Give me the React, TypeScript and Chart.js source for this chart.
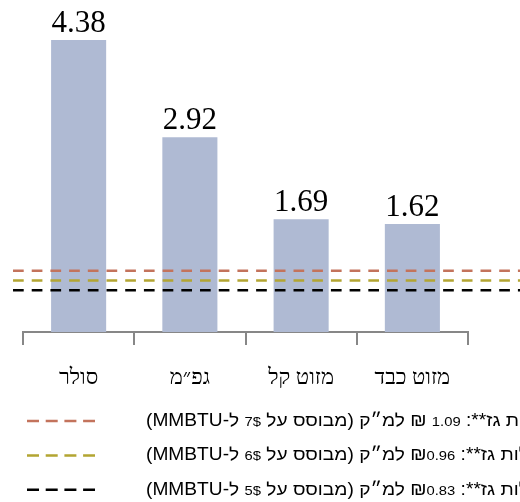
import { useEffect, useRef } from 'react';
import { Chart, registerables } from 'chart.js';

Chart.register(...registerables);

const categories = ['סולר', 'גפ״מ', 'מזוט קל', 'מזוט כבד'];
const fuelCosts = [4.38, 2.92, 1.69, 1.62];
const gasCosts = [1.09, 0.96, 0.83];
const mmbtuPrices = [7, 6, 5];
const shekelGap = [' ', '', ''];
const gasColors = ['#C3735C', '#B3A532', '#000000'];
const barColor = '#AFBAD3';

const legendPieces = gasCosts.map((v, i) => [
  { t: 'עלות גז**: ', small: false },
  { t: v.toFixed(2), small: true },
  { t: shekelGap[i] + '₪ למ״ק (מבוסס על ', small: false },
  { t: mmbtuPrices[i] + '$', small: true },
  { t: ' ל-MMBTU)', small: false },
]);
const gasLegend = legendPieces.map((p) => p.map((s) => s.t).join(''));

const valueLabels = {
  id: 'valueLabels',
  afterDatasetsDraw(chart: any) {
    const ctx = chart.ctx;
    chart.data.datasets.forEach((ds: any, i: number) => {
      if (ds.type !== 'bar') return;
      const meta = chart.getDatasetMeta(i);
      meta.data.forEach((el: any, j: number) => {
        ctx.save();
        ctx.font = '31px "Liberation Serif"';
        ctx.fillStyle = '#000';
        ctx.textAlign = 'center';
        ctx.textBaseline = 'alphabetic';
        ctx.fillText(ds.data[j].toFixed(2), el.x, el.y - 8.5);
        ctx.restore();
      });
    });
  },
};

const BIG = '17.5px "Liberation Sans"';
const SMALL = '13.5px "Liberation Sans"';
const STRETCH = 1.095;

const customLegend = {
  id: 'customLegend',
  afterDraw(chart: any) {
    const ctx = chart.ctx;
    const lines = chart.data.datasets.filter((d: any) => d.type === 'line');
    lines.forEach((ds: any, i: number) => {
      const y = 421 + i * 34.4;
      ctx.save();
      ctx.strokeStyle = ds.borderColor;
      ctx.lineWidth = 2.5;
      ctx.setLineDash([12, 6.7]);
      ctx.beginPath();
      ctx.moveTo(27, y);
      ctx.lineTo(95, y);
      ctx.stroke();
      ctx.setLineDash([]);
      ctx.restore();

      const pieces = legendPieces[i];
      ctx.save();
      ctx.fillStyle = '#000';
      (ctx as any).direction = 'rtl';
      ctx.textAlign = 'right';
      ctx.textBaseline = 'alphabetic';
      const widths = pieces.map((p) => {
        ctx.font = p.small ? SMALL : BIG;
        return ctx.measureText(p.t).width;
      });
      const total = widths.reduce((a, b) => a + b, 0);
      ctx.translate(146, y + 5);
      ctx.scale(STRETCH, 1);
      let r = total;
      pieces.forEach((p, k) => {
        ctx.font = p.small ? SMALL : BIG;
        ctx.fillText(p.t, r, 0);
        r -= widths[k];
      });
      ctx.restore();
    });
  },
};

export default function App() {
  const ref = useRef<HTMLCanvasElement | null>(null);
  useEffect(() => {
    if (!ref.current) return;
    const lineSets = gasCosts.map((v, i) => ({
      type: 'line' as const,
      label: gasLegend[i],
      data: [
        { x: 0, y: v },
        { x: 1, y: v },
      ],
      xAxisID: 'xl',
      yAxisID: 'y2',
      borderColor: gasColors[i],
      borderWidth: 2.5,
      borderDash: [10.7, 8],
      pointRadius: 0,
      fill: false,
      clip: false as any,
      order: 1,
    }));
    const chart = new Chart(ref.current, {
      type: 'bar',
      data: {
        labels: categories,
        datasets: [
          {
            type: 'bar' as const,
            label: 'fuel',
            data: fuelCosts,
            backgroundColor: barColor,
            categoryPercentage: 1,
            barPercentage: 0.495,
            grouped: false,
            order: 2,
          } as any,
          ...lineSets,
        ],
      },
      options: {
        animation: false,
        responsive: true,
        maintainAspectRatio: false,
        layout: { padding: { left: 23, right: 52, top: 32, bottom: 110 } },
        plugins: { legend: { display: false }, tooltip: { enabled: false } },
        scales: {
          x: {
            type: 'category',
            position: 'bottom',
            offset: true,
            grid: { offset: true, drawOnChartArea: false, tickLength: 13, color: '#878787', lineWidth: 2 },
            border: { display: true, color: '#878787', width: 2 },
            ticks: { font: { family: '"Liberation Serif"', size: 22 }, color: '#000', padding: 20, maxRotation: 0 },
            afterFit(scale: any) {
              scale.height = 60;
            },
          },
          y: { display: false, min: 0, max: 4.5 },
          y2: { display: false, min: 0.274, max: 4.274 },
          xl: {
            type: 'linear',
            display: false,
            offset: false,
            grid: { offset: false },
            min: 0.0195,
            max: 0.8887,
          },
        },
      },
      plugins: [valueLabels, customLegend],
    } as any);
    return () => chart.destroy();
  }, []);
  return (
    <div style={{ position: 'absolute', left: 0, top: 0, width: 520, height: 502 }}>
      <canvas ref={ref} />
    </div>
  );
}
